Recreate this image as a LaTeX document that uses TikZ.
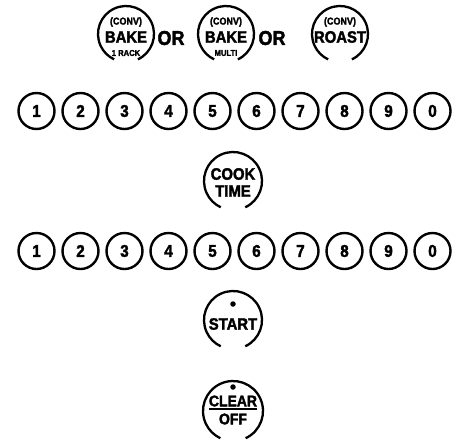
\documentclass[tikz,border=0pt]{standalone}
\usepackage{fontspec}
\setmainfont{Liberation Sans}
\newfontfamily\kf[FakeStretch=0.9,FakeBold=2]{Liberation Sans Bold}
\begin{document}
\begin{tikzpicture}[x=1pt,y=1pt]
\useasboundingbox (0,0) rectangle (457,-440);
\tikzset{
  digitkey/.style={circle,draw,line width=2.4pt,minimum size=36pt,inner sep=0pt,
    font=\kf\fontsize{17}{17}\selectfont},
  ring/.style={line width=2.3pt},
  orlabel/.style={inner sep=0pt,font=\kf\fontsize{20}{20}\selectfont},
  conv/.style={inner sep=0pt,font=\kf\fontsize{10}{10}\selectfont},
  big/.style={inner sep=0pt,font=\kf\fontsize{16.5}{16.5}\selectfont},
  small/.style={inner sep=0pt,font=\kf\fontsize{8.5}{8.5}\selectfont},
  dotmark/.style={circle,fill,inner sep=0pt,minimum size=5.5pt}
}
% top row
\foreach \n/\x in {ba/126,bb/226,bc/340}{
  \coordinate (\n) at (\x,-34);
  \draw[ring] ([shift={(-65:28)}]\n) arc[start angle=-65,end angle=245,radius=28];
}
\node[conv] (ca) at (126,-22) {(CONV)};
\node[big] (ta) at (126,-37) {BAKE};
\node[small] (sa) at (126,-53) {1 RACK};
\node[conv] (cb) at (226,-22) {(CONV)};
\node[big] (tb) at (226,-37) {BAKE};
\node[small] (sb) at (226,-53) {MULTI};
\node[conv] (cc) at (340,-22) {(CONV)};
\node[big] (tc) at (340,-37) {ROAST};
\node[orlabel] (or1) at (171,-38) {OR};
\node[orlabel] (or2) at (272,-38) {OR};
% digit rows
\foreach \d [count=\i from 0] in {1,2,3,4,5,6,7,8,9,0}{
  \node[digitkey] (r1d\d) at (36.5+44*\i,-111) {\d};
  \node[digitkey] (r2d\d) at (36.5+44*\i,-251) {\d};
}
% cook time
\coordinate (ck) at (233,-181);
\draw[ring] ([shift={(-65:29)}]ck) arc[start angle=-65,end angle=245,radius=29];
\node[big] (cook) at (233,-174) {COOK};
\node[big] (time) at (233,-191) {TIME};
% start
\coordinate (st) at (233,-320);
\draw[ring] ([shift={(-65:29)}]st) arc[start angle=-65,end angle=245,radius=29];
\node[dotmark] (stdot) at (233,-304) {};
\node[big] (sttxt) at (233,-324) {START};
% clear/off
\coordinate (cl) at (233,-411);
\draw[ring] ([shift={(-65:30)}]cl) arc[start angle=-65,end angle=245,radius=30];
\node[dotmark] (cldot) at (233,-387) {};
\node[big,font=\kf\fontsize{15.5}{15.5}\selectfont] (cltxt) at (233,-401) {CLEAR};
\node[big,font=\kf\fontsize{15.5}{15.5}\selectfont] (offtxt) at (233,-419) {OFF};
\draw[line width=1.8pt] ([yshift=-2.5pt]cltxt.south west) -- ([yshift=-2.5pt]cltxt.south east);
\end{tikzpicture}
\end{document}
